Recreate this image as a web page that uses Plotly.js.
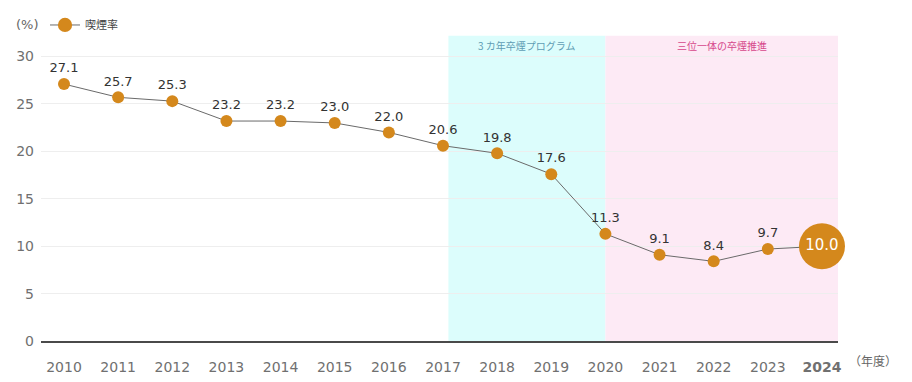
<!DOCTYPE html>
<html>
<head>
<meta charset="utf-8">
<script src="https://cdn.plot.ly/plotly-3.0.1.min.js"></script>
<style>html,body{margin:0;padding:0;background:#fff;}#chart{width:912px;height:382px;}</style>
</head>
<body>
<div id="chart"></div>
<script>
// ---- data ----
const years = [2010, 2011, 2012, 2013, 2014, 2015, 2016, 2017, 2018, 2019, 2020, 2021, 2022, 2023, 2024];
const smokingRate = [27.1, 25.7, 25.3, 23.2, 23.2, 23.0, 22.0, 20.6, 19.8, 17.6, 11.3, 9.1, 8.4, 9.7, 10.0];
const yearTickLabels = ['2010','2011','2012','2013','2014','2015','2016','2017','2018','2019','2020','2021','2022','2023','<b>2024</b>'];
const seriesName = '喫煙率';
const programNames = ['3 カ年卒煙プログラム', '三位一体の卒煙推進'];
const programStart = [2017, 2020];
const programEnd = [2020, 2024];
const yTicks = [0, 5, 10, 15, 20, 25, 30];

// ---- styling ----
const FONT = 'DejaVu Sans, Noto Sans CJK JP, sans-serif';
const JP = 'Noto Sans CJK JP, sans-serif';
const ORANGE = '#d4881c';
const last = years.length - 1;
const xMin = 2009.575, xMax = 2024.296;
const M = {l: 41, r: 74, t: 10, b: 41};
const plotW = 912 - M.l - M.r;
const bottomPx = 382 - M.b;
const pxPerUnit = 9.57;
const bandTop = (bottomPx - 33) / pxPerUnit;   // top edge of shaded bands (data units)
const px2paperX = px => (px - M.l) / plotW;

const markerSizes = years.map((_, i) => i === last ? 46 : 12);
const textPos = years.map((_, i) => i === last ? 'middle center' : 'top center');
const textColors = years.map((_, i) => i === last ? '#ffffff' : '#333333');
const textSizes = years.map((_, i) => i === last ? 15 : 13);

const traces = [
  {
    x: years, y: smokingRate, type: 'scatter', mode: 'lines+markers', name: seriesName,
    line: {color: '#6a6a6a', width: 1},
    marker: {color: ORANGE, size: markerSizes, opacity: 1, line: {width: 0}},
    cliponaxis: false, hoverinfo: 'skip'
  },
  {
    x: years, y: smokingRate, type: 'scatter', mode: 'markers+text', showlegend: false,
    marker: {color: 'rgba(0,0,0,0)', size: 12, opacity: 0},
    text: smokingRate.map(v => v.toFixed(1)),
    textposition: textPos,
    textfont: {family: FONT, size: textSizes, color: textColors},
    cliponaxis: false, hoverinfo: 'skip'
  }
];

const bgColors = ['#dcfdfc', '#fdeaf5'];
const labelColors = ['#5f9db5', '#d6478b'];
const bandX0 = programStart.map((s, i) => i === 0 ? s + 0.1 : s);
const bandX1 = programEnd.map((e, i) => i === programNames.length - 1 ? xMax : e);
const shapes = programNames.map((_, i) => ({
  type: 'rect', layer: 'below', xref: 'x', yref: 'y',
  x0: bandX0[i], x1: bandX1[i],
  y0: 0, y1: bandTop, fillcolor: bgColors[i], line: {width: 0}
}));

// pieces that depend on the actual plot height (legend may push the top margin)
function heightDependent(h) {
  const py = p => (bottomPx - p) / h;
  const annotations = programNames.map((name, i) => ({
    x: (bandX0[i] + bandX1[i]) / 2, y: py(43), xref: 'x', yref: 'paper', text: name, showarrow: false,
    font: {family: JP, size: 10, color: labelColors[i]}, xanchor: 'center', yanchor: 'middle'
  }));
  annotations.push({
    x: px2paperX(27), y: py(22), xref: 'paper', yref: 'paper', text: '(%)', showarrow: false,
    font: {family: FONT, size: 13, color: '#666'}, xanchor: 'center', yanchor: 'middle'
  });
  annotations.push({
    x: px2paperX(873), y: py(361), xref: 'paper', yref: 'paper', text: '（年度）', showarrow: false,
    font: {family: JP, size: 12, color: '#666'}, xanchor: 'center', yanchor: 'middle'
  });
  return {
    annotations: annotations,
    'legend.y': py(22),
    'yaxis.range': [0, h / pxPerUnit]
  };
}

const h0 = 382 - M.t - M.b;
const hd0 = heightDependent(h0);

const layout = {
  width: 912, height: 382,
  margin: {l: M.l, r: M.r, t: M.t, b: M.b, pad: 0},
  paper_bgcolor: '#ffffff', plot_bgcolor: 'rgba(0,0,0,0)',
  font: {family: FONT, color: '#666'},
  showlegend: true,
  legend: {
    orientation: 'h', xref: 'paper', yref: 'paper',
    x: px2paperX(45), xanchor: 'left', y: hd0['legend.y'], yanchor: 'middle',
    font: {family: JP, size: 11, color: '#444'},
    bgcolor: 'rgba(0,0,0,0)', borderwidth: 0
  },
  xaxis: {
    range: [xMin, xMax], tickvals: years, ticktext: yearTickLabels,
    showgrid: false, zeroline: false, showline: true, linecolor: '#4a4a4a', linewidth: 2,
    ticks: '', ticklabelstandoff: 12, tickfont: {family: FONT, size: 14, color: '#707070'},
    fixedrange: true
  },
  yaxis: {
    range: hd0['yaxis.range'], tickvals: yTicks, showgrid: true, gridcolor: '#eeeeee', gridwidth: 1,
    zeroline: false, showline: false, ticks: '', ticklabelstandoff: 6,
    tickfont: {family: FONT, size: 14, color: '#707070'}, fixedrange: true
  },
  shapes: shapes,
  annotations: hd0.annotations
};

const gd = document.getElementById('chart');
Plotly.newPlot(gd, traces, layout, {displayModeBar: false, staticPlot: true}).then(async () => {
  for (let k = 0; k < 3; k++) {
    const h = gd._fullLayout._size.h;
    const cur = gd.layout.yaxis.range[1] * pxPerUnit;
    if (Math.abs(h - cur) < 0.01) break;
    await Plotly.relayout(gd, heightDependent(h));
  }
});
</script>
</body>
</html>
